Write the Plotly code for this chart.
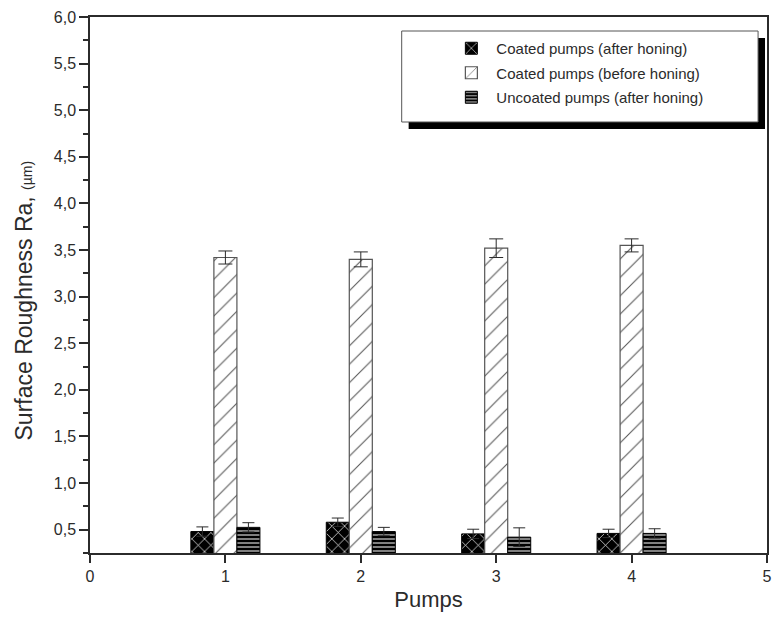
import plotly.graph_objects as go

# Surface roughness per pump, three measurement groups
pumps = [1, 2, 3, 4]
coated_after = [0.48, 0.58, 0.455, 0.46]
coated_after_err = [0.05, 0.045, 0.05, 0.045]
coated_before = [3.42, 3.40, 3.52, 3.55]
coated_before_err = [0.07, 0.08, 0.10, 0.07]
uncoated_after = [0.525, 0.48, 0.42, 0.46]
uncoated_after_err = [0.05, 0.045, 0.10, 0.05]

series_names = [
    "Coated pumps (after honing)",
    "Coated pumps (before honing)",
    "Uncoated pumps (after honing)",
]

INK = "#2b2b2b"
FONT = "Liberation Sans, Arial, sans-serif"

fig = go.Figure()

fig.add_trace(go.Bar(
    x=pumps, y=coated_after, name=series_names[0], legendgroup="a",
    marker=dict(color="black",
                line=dict(color="black", width=1),
                pattern=dict(shape="x", fgcolor="white", bgcolor="black",
                             size=9, solidity=0.15, fillmode="replace")),
    error_y=dict(type="data", array=coated_after_err, color=INK,
                 thickness=1, width=6),
))
fig.add_trace(go.Bar(
    x=pumps, y=coated_before, name=series_names[1], legendgroup="b",
    marker=dict(color="white",
                line=dict(color="#555555", width=1.2),
                pattern=dict(shape="/", fgcolor="#555555", bgcolor="white",
                             size=13, solidity=0.08, fillmode="replace")),
    error_y=dict(type="data", array=coated_before_err, color=INK,
                 thickness=1, width=7),
))
fig.add_trace(go.Bar(
    x=pumps, y=uncoated_after, name=series_names[2], legendgroup="c",
    marker=dict(color="black",
                line=dict(color="black", width=1),
                pattern=dict(shape="-", fgcolor="white", bgcolor="black",
                             size=4, solidity=0.25, fillmode="replace")),
    error_y=dict(type="data", array=uncoated_after_err, color=INK,
                 thickness=1, width=6),
))

# plot area in pixels: x 90..772, y 17..553
L, R, T, B = 90, 4, 17, 68
W, H = 776, 621
pw, ph = W - L - R, H - T - B


def px_to_paper(px, py):
    return (px - L) / pw, (H - B - py) / ph


# legend frame with drop shadow
sx0, sy0 = px_to_paper(411, 129)
sx1, sy1 = px_to_paper(770, 38)
bx0, by0 = px_to_paper(404, 122)
bx1, by1 = px_to_paper(763, 31)
fig.add_shape(type="rect", xref="paper", yref="paper",
              x0=sx0, x1=sx1, y0=sy0, y1=sy1,
              fillcolor="black", line=dict(width=0), layer="above")
fig.add_shape(type="rect", xref="paper", yref="paper",
              x0=bx0, x1=bx1, y0=by0, y1=by1,
              fillcolor="white", line=dict(color="#555555", width=1), layer="above")

lx, ly = px_to_paper(449, 32)

# y-axis title placed as an annotation so its centre can be set freely
tx, ty = px_to_paper(24, 300)
fig.add_annotation(
    x=tx, y=ty, xref="paper", yref="paper", xanchor="center", yanchor="middle",
    textangle=-90, showarrow=False,
    text="Surface Roughness Ra, <span style='font-size:14px'>(µm)</span>",
    font=dict(size=23, color=INK, family=FONT),
)

fig.update_layout(
    width=W, height=H,
    margin=dict(l=L, r=R, t=T, b=B),
    paper_bgcolor="white", plot_bgcolor="white",
    separators=",.",
    barmode="group", bargap=0.49, bargroupgap=0,
    font=dict(family=FONT, color=INK, size=16),
    showlegend=True,
    legend=dict(x=lx, y=ly, xanchor="left", yanchor="top",
                bgcolor="rgba(0,0,0,0)", borderwidth=0,
                font=dict(size=15, color=INK),
                traceorder="grouped", tracegroupgap=2,
                itemwidth=40),
    xaxis=dict(range=[0, 5], tickmode="array", tickvals=[0, 1, 2, 3, 4, 5],
               ticks="outside", ticklen=8, tickwidth=1.5, tickcolor=INK,
               ticklabeloverflow="allow",
               showline=True, linecolor=INK, linewidth=1.5, mirror=True,
               showgrid=False, zeroline=False,
               tickfont=dict(size=16),
               title=dict(text="Pumps", font=dict(size=22), standoff=8)),
    yaxis=dict(range=[0.25, 6.0], tickmode="linear", tick0=0.5, dtick=0.5,
               tickformat=".1f",
               ticks="outside", ticklen=9, tickwidth=1.5, tickcolor=INK,
               minor=dict(dtick=0.25, tick0=0.25, ticks="outside", ticklen=5,
                          tickwidth=1.5, tickcolor=INK, showgrid=False),
               showline=True, linecolor=INK, linewidth=1.5, mirror=True,
               showgrid=False, zeroline=False,
               tickfont=dict(size=16)),
)

fig.write_html("out.html")
